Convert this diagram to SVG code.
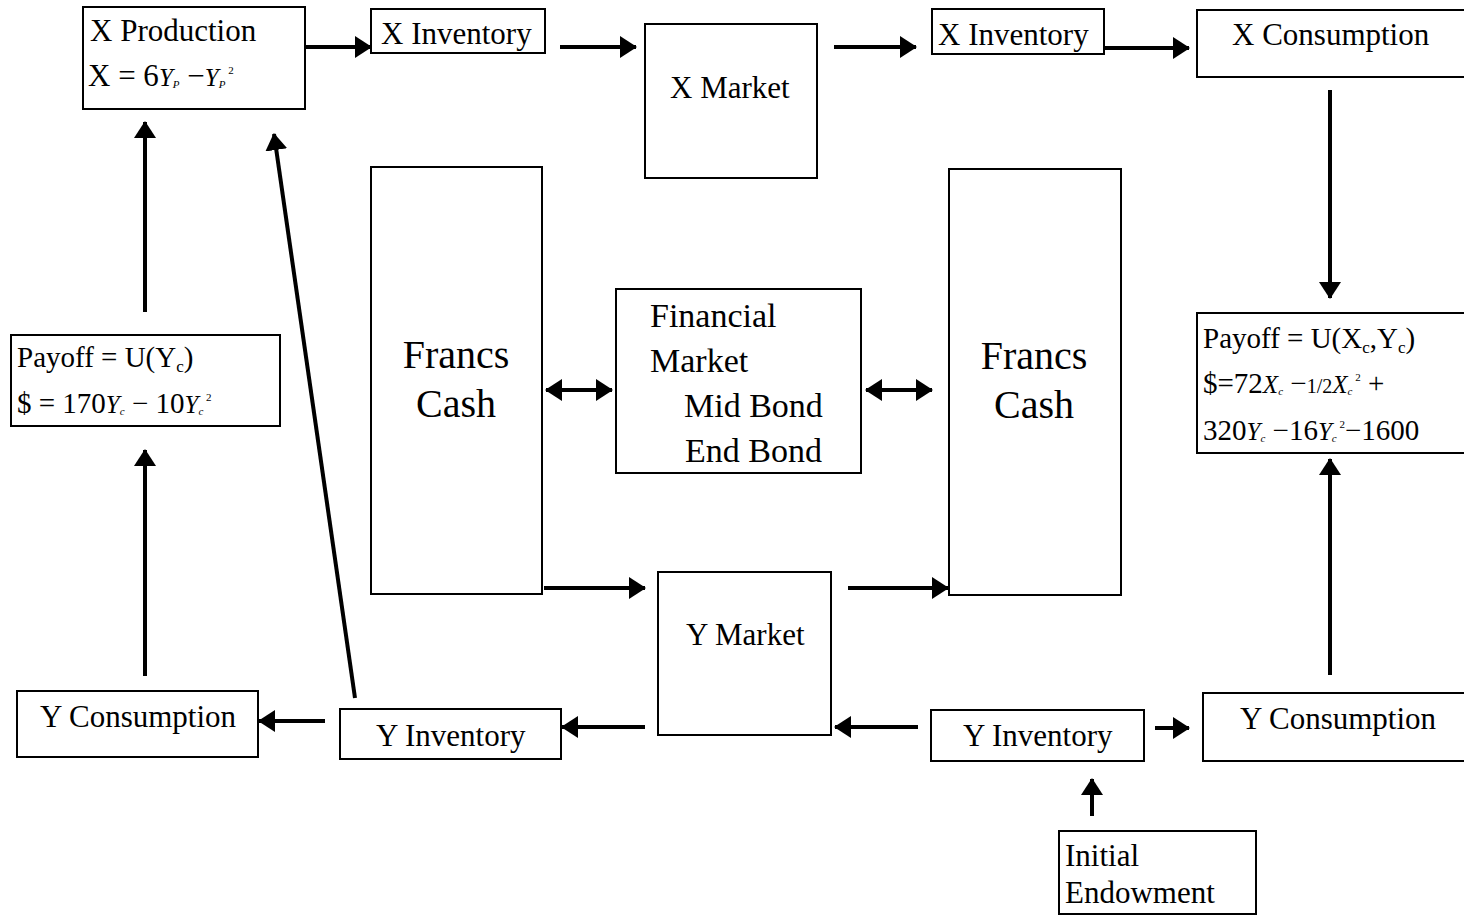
<svg xmlns="http://www.w3.org/2000/svg" width="1464" height="917" viewBox="0 0 1464 917">
<style>
.box{fill:#fff;stroke:#000;stroke-width:2}
text{font-family:"Liberation Serif","Times New Roman",serif;fill:#000}
.lb{font-size:31px}
.big{font-size:40px}
.fm{font-size:34px}
.pf{font-size:29px}
.it{font-style:italic;font-size:25px}
.sb{font-size:11px}
.c{text-anchor:middle}
.ln{stroke:#000;stroke-width:4;fill:none}
</style>
<defs>
<marker id="ah" markerWidth="18" markerHeight="24" refX="16" refY="12" orient="auto-start-reverse" markerUnits="userSpaceOnUse">
<path d="M0,1 L17,12 L0,23 z" fill="#000"/>
</marker>
</defs>
<rect width="1464" height="917" fill="#fff"/>
<g id="connectors">
<line class="ln" x1="305" y1="47" x2="371" y2="47" marker-end="url(#ah)"/>
<line class="ln" x1="560" y1="47" x2="636" y2="47" marker-end="url(#ah)"/>
<line class="ln" x1="834" y1="47" x2="916" y2="47" marker-end="url(#ah)"/>
<line class="ln" x1="1104" y1="48" x2="1189" y2="48" marker-end="url(#ah)"/>
<line class="ln" x1="1330" y1="90" x2="1330" y2="298" marker-end="url(#ah)"/>
<line class="ln" x1="145" y1="312" x2="145" y2="122" marker-end="url(#ah)"/>
<line class="ln" x1="145" y1="676" x2="145" y2="450" marker-end="url(#ah)"/>
<line class="ln" x1="355" y1="698" x2="274" y2="134" marker-end="url(#ah)"/>
<line class="ln" x1="1092" y1="816" x2="1092" y2="779" marker-end="url(#ah)"/>
<line class="ln" x1="1155" y1="728" x2="1189" y2="728" marker-end="url(#ah)"/>
<line class="ln" x1="1330" y1="675" x2="1330" y2="459" marker-end="url(#ah)"/>
<line class="ln" x1="918" y1="727" x2="835" y2="727" marker-end="url(#ah)"/>
<line class="ln" x1="645" y1="727" x2="562" y2="727" marker-end="url(#ah)"/>
<line class="ln" x1="325" y1="721" x2="259" y2="721" marker-end="url(#ah)"/>
<line class="ln" x1="544" y1="588" x2="645" y2="588" marker-end="url(#ah)"/>
<line class="ln" x1="848" y1="588" x2="948" y2="588" marker-end="url(#ah)"/>
<line class="ln" x1="546" y1="390" x2="612" y2="390" marker-start="url(#ah)" marker-end="url(#ah)"/>
<line class="ln" x1="866" y1="390" x2="932" y2="390" marker-start="url(#ah)" marker-end="url(#ah)"/>
</g>
<g id="x-production">
<rect class="box" x="83" y="7" width="222" height="102"/>
<text class="lb" x="90" y="41">X Production</text>
<text class="lb" x="88" y="86">X = 6<tspan class="it">Y</tspan><tspan class="sb" font-style="italic" dy="2">P</tspan><tspan dy="-2"> −</tspan><tspan class="it">Y</tspan><tspan class="sb" font-style="italic" dy="2">P</tspan><tspan class="sb" dy="-14"> 2</tspan></text>
</g>
<g id="x-inventory-left">
<rect class="box" x="371" y="9" width="174" height="44"/>
<text class="lb" x="381" y="44">X Inventory</text>
</g>
<g id="x-market">
<rect class="box" x="645" y="24" width="172" height="154"/>
<text class="lb" x="670" y="98">X Market</text>
</g>
<g id="x-inventory-right">
<rect class="box" x="932" y="9" width="172" height="45"/>
<text class="lb" x="938" y="45">X Inventory</text>
</g>
<g id="x-consumption">
<rect class="box" x="1197" y="10" width="270" height="67"/>
<text class="lb" x="1232" y="45">X Consumption</text>
</g>
<g id="francs-cash-left">
<rect class="box" x="371" y="167" width="171" height="427"/>
<text class="big c" x="456" y="368">Francs</text>
<text class="big c" x="456" y="417">Cash</text>
</g>
<g id="financial-market">
<rect class="box" x="616" y="289" width="245" height="184"/>
<text class="fm" x="650" y="327">Financial</text>
<text class="fm" x="650" y="372">Market</text>
<text class="fm" x="684" y="417">Mid Bond</text>
<text class="fm" x="685" y="462">End Bond</text>
</g>
<g id="francs-cash-right">
<rect class="box" x="949" y="169" width="172" height="426"/>
<text class="big c" x="1034" y="369">Francs</text>
<text class="big c" x="1034" y="418">Cash</text>
</g>
<g id="payoff-left">
<rect class="box" x="11" y="335" width="269" height="91"/>
<text class="pf" x="17" y="367">Payoff = U(Y<tspan font-size="17" dy="5">c</tspan><tspan dy="-5">)</tspan></text>
<text class="pf" x="17" y="413">$ = 170<tspan class="it">Y</tspan><tspan class="sb" font-style="italic" dy="2">c</tspan><tspan dy="-2"> − 10</tspan><tspan class="it">Y</tspan><tspan class="sb" font-style="italic" dy="2">c</tspan><tspan class="sb" dy="-14"> 2</tspan></text>
</g>
<g id="payoff-right">
<rect class="box" x="1197" y="313" width="270" height="140"/>
<text class="pf" x="1203" y="348">Payoff = U(X<tspan font-size="17" dy="5">c</tspan><tspan dy="-5">,Y</tspan><tspan font-size="17" dy="5">c</tspan><tspan dy="-5">)</tspan></text>
<text class="pf" x="1203" y="393">$=72<tspan class="it">X</tspan><tspan class="sb" font-style="italic" dy="2">c</tspan><tspan dy="-2"> −</tspan><tspan font-size="20">1/2</tspan><tspan class="it">X</tspan><tspan class="sb" font-style="italic" dy="2">c</tspan><tspan class="sb" dy="-14"> 2</tspan><tspan dy="12"> +</tspan></text>
<text class="pf" x="1203" y="440">320<tspan class="it">Y</tspan><tspan class="sb" font-style="italic" dy="2">c</tspan><tspan dy="-2"> −16</tspan><tspan class="it">Y</tspan><tspan class="sb" font-style="italic" dy="2">c</tspan><tspan class="sb" dy="-14"> 2</tspan><tspan dy="12">−1600</tspan></text>
</g>
<g id="y-market">
<rect class="box" x="658" y="572" width="173" height="163"/>
<text class="lb" x="686" y="645">Y Market</text>
</g>
<g id="y-consumption-left">
<rect class="box" x="17" y="691" width="241" height="66"/>
<text class="lb" x="40" y="727">Y Consumption</text>
</g>
<g id="y-inventory-left">
<rect class="box" x="340" y="709" width="221" height="50"/>
<text class="lb" x="376" y="746">Y Inventory</text>
</g>
<g id="y-inventory-right">
<rect class="box" x="931" y="710" width="213" height="51"/>
<text class="lb" x="963" y="746">Y Inventory</text>
</g>
<g id="y-consumption-right">
<rect class="box" x="1203" y="693" width="264" height="68"/>
<text class="lb" x="1240" y="729">Y Consumption</text>
</g>
<g id="initial-endowment">
<rect class="box" x="1059" y="831" width="197" height="83"/>
<text class="lb" x="1065" y="866">Initial</text>
<text class="lb" x="1065" y="903">Endowment</text>
</g>
</svg>
